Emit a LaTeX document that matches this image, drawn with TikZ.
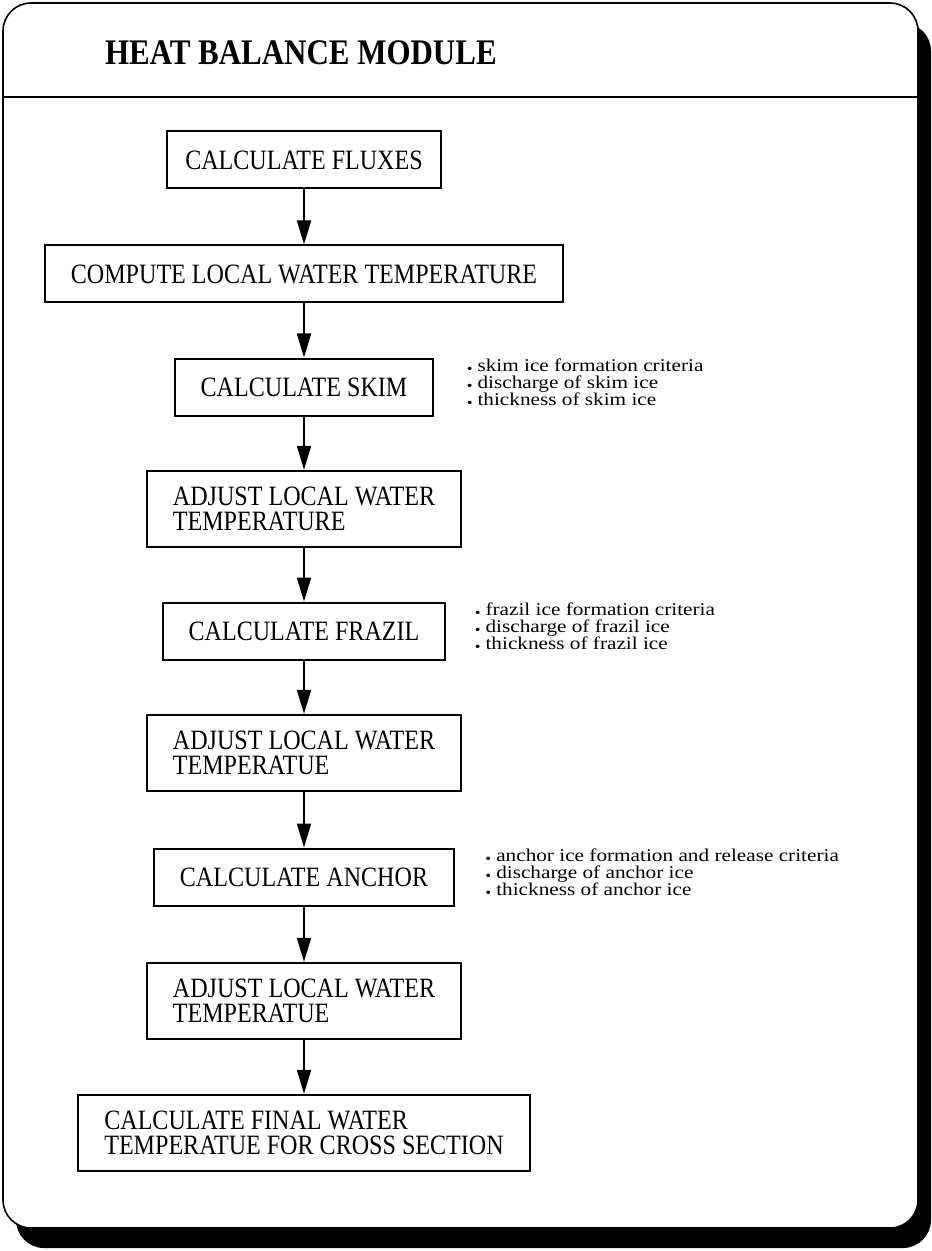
\documentclass[tikz,border=0pt]{standalone}
\usepackage{fontspec}
\setmainfont{Liberation Serif}[FakeStretch=0.86]
\newfontfamily\notefont{Liberation Serif}[FakeStretch=1.18]
\usetikzlibrary{arrows.meta, positioning}

\newcommand{\nb}{\raisebox{-0.25ex}{\scriptsize\textbullet}\hspace{2.5pt}}

\begin{document}
\begin{tikzpicture}[x=0.5pt,y=-0.5pt,node distance=61pt,
                    box node/.style={rectangle,draw,line width=1pt,inner xsep=13pt,inner ysep=8pt,minimum height=28.5pt,align=left,font=\fontsize{14}{12.8}\selectfont},
                    note node/.style={align=left,inner sep=0pt,font=\notefont\fontsize{9}{8.6}\selectfont},
                    flow/.style={-{Triangle[length=12pt,width=7pt]},line width=1pt}]

  \useasboundingbox (0,0) rectangle (931,1251);
  % frame and shadow
  \fill[rounded corners=14pt] (16,23) rectangle (931,1248);
  \draw[fill=white,rounded corners=14pt,line width=0.8pt] (3,3) rectangle (918,1228);
  \draw[line width=1pt] (3,97) -- (918,97);
  \node[anchor=west,font=\fontsize{18}{20}\selectfont\bfseries] (title) at (98,53) {HEAT BALANCE MODULE};

  \node[box node,inner xsep=9pt] (1) at (304,160) {CALCULATE FLUXES};
  \node[box node] (2) [below of=1,node distance=57pt] {COMPUTE LOCAL WATER TEMPERATURE};
  \node[box node] (3) [below of=2,node distance=56.5pt] {CALCULATE SKIM};
  \node[box node] (4) [below of=3] {ADJUST LOCAL WATER\\TEMPERATURE};
  \node[box node] (5) [below of=4] {CALCULATE FRAZIL};
  \node[box node] (6) [below of=5] {ADJUST LOCAL WATER\\TEMPERATUE};
  \node[box node] (7) [below of=6,node distance=62pt] {CALCULATE ANCHOR};
  \node[box node] (8) [below of=7,node distance=62pt] {ADJUST LOCAL WATER\\TEMPERATUE};
  \node[box node] (9) [below of=8,node distance=66pt] {CALCULATE FINAL WATER\\TEMPERATUE FOR CROSS SECTION};

  % side notes
  \node[note node,right=16pt of 3,yshift=2pt] (3n) {\nb skim ice formation criteria\\\nb discharge of skim ice\\\nb thickness of skim ice};
  \node[note node,right=14pt of 5,yshift=2pt] (5n) {\nb frazil ice formation criteria\\\nb discharge of frazil ice\\\nb thickness of frazil ice};
  \node[note node,right=15pt of 7,yshift=2pt] (7n) {\nb anchor ice formation and release criteria\\\nb discharge of anchor ice\\\nb thickness of anchor ice};

  \path[flow]
    (1) edge (2)
    (2) edge (3)
    (3) edge (4)
    (4) edge (5)
    (5) edge (6)
    (6) edge (7)
    (7) edge (8)
    (8) edge (9);
\end{tikzpicture}
\end{document}
